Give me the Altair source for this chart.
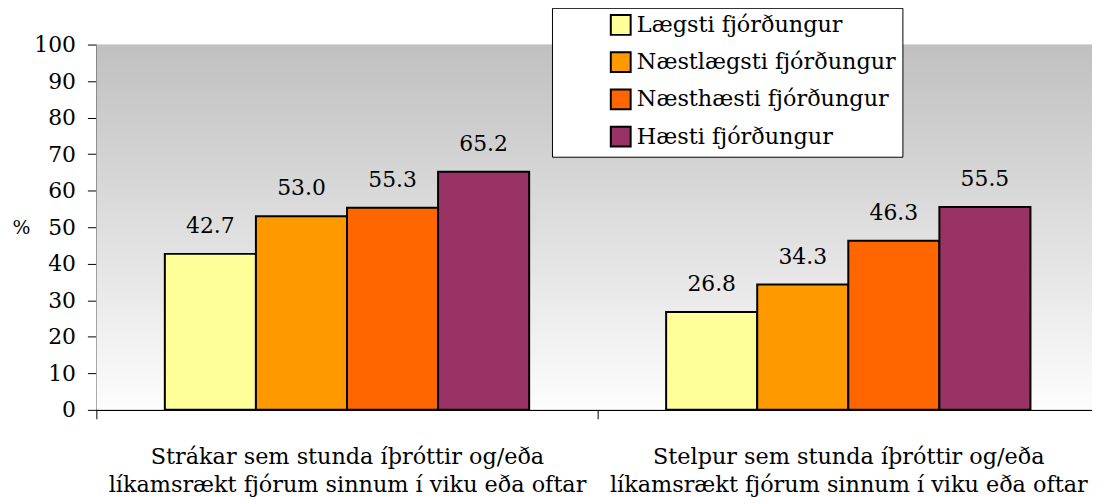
import altair as alt
import pandas as pd

line1 = ["Strákar sem stunda íþróttir og/eða", "Stelpur sem stunda íþróttir og/eða"]
line2 = ["líkamsrækt fjórum sinnum í viku eða oftar", "líkamsrækt fjórum sinnum í viku eða oftar"]
quartiles = ["Lægsti fjórðungur", "Næstlægsti fjórðungur", "Næsthæsti fjórðungur", "Hæsti fjórðungur"]
boys = [42.7, 53.0, 55.3, 65.2]
girls = [26.8, 34.3, 46.3, 55.5]
colors = ["#FFFF99", "#FF9900", "#FF6600", "#993366"]
y_ticks = [0, 10, 20, 30, 40, 50, 60, 70, 80, 90, 100]

groups = [a + "|" + b for a, b in zip(line1, line2)]
rows = []
for g, vals in zip(groups, [boys, girls]):
    for q, v in zip(quartiles, vals):
        rows.append({"group": g, "quartile": q, "value": v})
df = pd.DataFrame(rows)

W, H = 1003, 368
FONT = "DejaVu Serif"

bg = alt.Chart(alt.Data(values=[{}])).mark_rect(
    color=alt.Gradient(
        gradient="linear", x1=0, y1=0, x2=0, y2=1,
        stops=[alt.GradientStop(color="#c0c0c0", offset=0),
               alt.GradientStop(color="#fdfdfd", offset=1)],
    )
).encode(x=alt.value(0), x2=alt.value(W), y=alt.value(0), y2=alt.value(H))

x_enc = alt.X(
    "group:N", sort=groups, title=None,
    scale=alt.Scale(range=[0, 1010], paddingInner=0, paddingOuter=0),
    axis=alt.Axis(
        labelExpr="split(datum.label, '|')", labelAngle=0, tickBand="extent",
        tickSize=9, tickColor="black", domainColor="black", domainWidth=1.5,
        labelFont=FONT, labelFontSize=22.5, labelColor="black", labelPadding=27,
        labelLineHeight=28, labelLimit=0,
    ),
)
xoff_enc = alt.XOffset("quartile:N", sort=quartiles,
                       scale=alt.Scale(paddingInner=0, paddingOuter=0.752))
y_enc = alt.Y(
    "value:Q",
    scale=alt.Scale(domain=[0, 100], nice=False),
    axis=alt.Axis(
        values=y_ticks, title="%", titleAngle=0, titleX=-76, titleY=184,
        titleAlign="center", titleBaseline="middle", titleFont=FONT,
        titleFontSize=19, titleFontWeight="normal", titleColor="black",
        tickSize=9, tickColor="black", domainColor="black", domainWidth=1.5,
        labelFont=FONT, labelFontSize=22, labelColor="black", labelPadding=12,
        grid=False,
    ),
)

bars = alt.Chart(df).mark_bar(stroke="black", strokeWidth=2).encode(
    x=x_enc,
    xOffset=xoff_enc,
    y=y_enc,
    color=alt.Color(
        "quartile:N", sort=quartiles,
        scale=alt.Scale(domain=quartiles, range=colors),
        legend=alt.Legend(
            title=None, orient="none", legendX=459, legendY=-37,
            fillColor="white", strokeColor="black", padding=6,
            symbolType="square", symbolSize=400, symbolStrokeColor="black",
            symbolStrokeWidth=2, symbolOffset=52,
            labelFont=FONT, labelFontSize=22.5, labelColor="black",
            labelOffset=5, rowPadding=8.5, labelLimit=0,
        ),
    ),
)

labels = alt.Chart(df).mark_text(
    baseline="alphabetic", dy=-21, font=FONT, fontSize=22, color="black"
).encode(
    x=x_enc, xOffset=xoff_enc, y=y_enc,
    text=alt.Text("value:Q", format=".1f"),
)

chart = alt.layer(bg, bars, labels).properties(
    width=W, height=H,
    padding={"left": 89, "top": 35, "right": 0, "bottom": 92},
    autosize=alt.AutoSizeParams(type="none"),
).configure_view(stroke=None).configure(background="white")

chart.save("out.html", embed_options={"renderer": "svg", "actions": False})
